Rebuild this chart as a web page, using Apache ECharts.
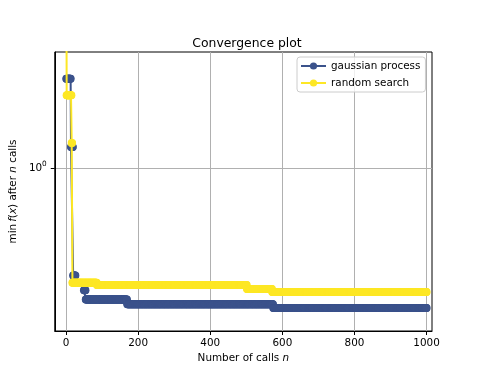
<!DOCTYPE html>
<html>
<head>
<meta charset="utf-8">
<script src="https://cdn.jsdelivr.net/npm/echarts@6/dist/echarts.min.js"></script>
<style>html,body{margin:0;padding:0;background:#fff}#c{width:477px;height:368px}</style>
</head>
<body>
<div id="c"></div>
<script>
// call number at which the running minimum changes, and the new minimum
const gpCalls  = [1, 14, 20, 27, 50, 55, 170, 575];
const gpValues = [1.80, 1.148, 0.493, 0.469, 0.447, 0.421, 0.4077, 0.3979];
const rsCalls  = [1, 2, 16, 18, 86, 502, 572];
const rsValues = [5.0, 1.614, 1.179, 0.470, 0.4627, 0.4511, 0.4423];
const nCalls = 1000;
const xTicks = [0, 200, 400, 600, 800, 1000];
const yTicks = [1];
const seriesNames = ['gaussian process', 'random search'];

function expand(calls, values) {
  const out = [];
  let j = 0;
  for (let n = 1; n <= nCalls; n++) {
    while (j + 1 < calls.length && calls[j + 1] <= n) j++;
    out.push([n, values[j]]);
  }
  return out;
}

const FONT = 'DejaVu Sans';
const FS = 10.4;
const colors = ['#3b528b', '#fde725'];
const chart = echarts.init(document.getElementById('c'), null, {renderer: 'canvas'});
chart.setOption({
  animation: false,
  textStyle: {fontFamily: FONT},
  title: {
    text: 'Convergence plot',
    left: 242, top: 33, textAlign: 'center',
    textStyle: {fontFamily: FONT, fontSize: 12.4, fontWeight: 'normal', color: '#000'}
  },
  legend: {
    orient: 'vertical', left: 297, top: 57,
    padding: [3, 5, 3, 3], itemGap: 5, itemWidth: 25, itemHeight: 9,
    backgroundColor: 'rgba(255,255,255,0.8)', borderColor: '#cccccc', borderWidth: 1, borderRadius: 3,
    textStyle: {fontFamily: FONT, fontSize: FS, color: '#000', lineHeight: 12},
    data: seriesNames
  },
  grid: {left: 54, top: 52, right: 45, bottom: 37, show: true, borderColor: '#000', borderWidth: 1, backgroundColor: 'transparent'},
  xAxis: {
    type: 'value', min: -31, max: 1015,
    name: 'Number of calls {i|n}', nameLocation: 'middle', nameGap: 21,
    nameTextStyle: {fontFamily: FONT, fontSize: FS, color: '#000', rich: {i: {fontStyle: 'italic', fontFamily: FONT, fontSize: FS}}},
    axisLine: {show: true, onZero: false, lineStyle: {color: '#000', width: 1}},
    axisTick: {show: true, inside: false, length: 4, customValues: xTicks, lineStyle: {color: '#000'}},
    axisLabel: {customValues: xTicks, margin: 7, fontFamily: FONT, fontSize: FS, color: '#000',
      formatter: function (v) { return String(v); }},
    splitLine: {show: true, lineStyle: {color: '#b0b0b0', width: 1}}
  },
  yAxis: {
    type: 'log', logBase: 10, min: 0.342, max: 2.146,
    name: 'min\u2009{i|f}({i|x}) after {i|n} calls', nameLocation: 'middle', nameGap: 27, nameRotate: 90,
    nameTextStyle: {fontFamily: FONT, fontSize: FS, color: '#000', rich: {i: {fontStyle: 'italic', fontFamily: FONT, fontSize: FS}}},
    axisLine: {show: true, onZero: false, lineStyle: {color: '#000', width: 1}},
    axisTick: {show: true, inside: false, length: 4, customValues: yTicks, lineStyle: {color: '#000'}},
    axisLabel: {
      customValues: yTicks, margin: 8, fontFamily: FONT, fontSize: FS, color: '#000',
      formatter: function (v) { return '{b|10}{s|0}'; },
      rich: {b: {fontSize: FS, fontFamily: FONT, color: '#000', lineHeight: 14}, s: {fontSize: 7.3, fontFamily: FONT, color: '#000', verticalAlign: 'top', lineHeight: 14}}
    },
    splitLine: {show: true, lineStyle: {color: '#b0b0b0', width: 1}}
  },
  series: [
    {
      name: seriesNames[0], type: 'line', data: expand(gpCalls, gpValues),
      symbol: 'circle', symbolSize: 8, showSymbol: true, showAllSymbol: true,
      lineStyle: {color: colors[0], width: 2}, itemStyle: {color: colors[0]}, z: 2
    },
    {
      name: seriesNames[1], type: 'line', data: expand(rsCalls, rsValues),
      symbol: 'circle', symbolSize: 8, showSymbol: true, showAllSymbol: true,
      lineStyle: {color: colors[1], width: 2}, itemStyle: {color: colors[1]}, z: 3
    }
  ]
});
</script>
</body>
</html>
